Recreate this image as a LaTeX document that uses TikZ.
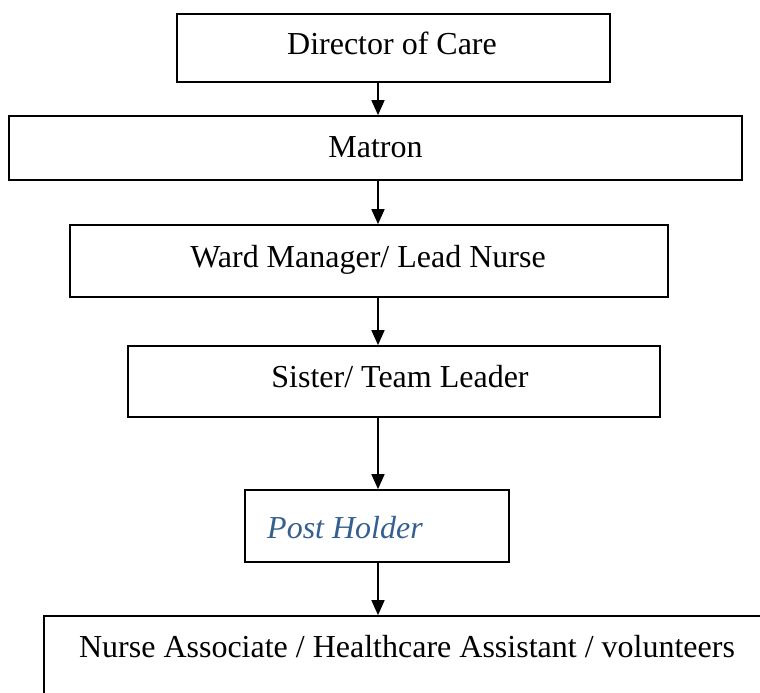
\documentclass[tikz,border=0pt]{standalone}
\usepackage{fontspec}
\setmainfont{Liberation Serif}
\usetikzlibrary{arrows.meta}
\definecolor{postblue}{HTML}{365F91}
\tikzset{
  box/.style={draw, line width=1.7pt, rectangle, inner sep=0pt},
  lbl/.style={inner sep=0pt, anchor=base, font=\fontsize{32}{38}\selectfont},
  arr/.style={line width=1.7pt, -{Triangle[length=15pt,width=13pt]}}
}
\begin{document}
\begin{tikzpicture}[x=1pt,y=-1pt]
\useasboundingbox (0,0) rectangle (760,693);
\clip (0,0) rectangle (760,693);
\coordinate (ax) at (378,0);
\node[box, minimum width=433pt, minimum height=68pt] (b1) at (393.5,48) {};
\node[box, minimum width=733pt, minimum height=64pt] (b2) at (375.5,148) {};
\node[box, minimum width=598pt, minimum height=72pt] (b3) at (369,261) {};
\node[box, minimum width=532pt, minimum height=71pt] (b4) at (394,381.5) {};
\node[box, minimum width=264pt, minimum height=72pt] (b5) at (377,526) {};
\node[box, minimum width=760pt, minimum height=200pt] (b6) at (424,716) {};
\node[lbl] (t1) at (392,55) {Director of Care};
\node[lbl] (t2) at (375.5,157) {Matron};
\node[lbl] (t3) at (368,267) {Ward Manager/ Lead Nurse};
\node[lbl] (t4) at (400,387) {Sister/ Team Leader};
\node[lbl, anchor=base west, text=postblue, font=\fontsize{32}{38}\selectfont\itshape] (t5) at (267,538) {Post Holder};
\node[lbl] (t6) at (407,657) {Nurse Associate / Healthcare Assistant / volunteers};
\draw[arr] (b1.south -| ax) -- (b2.north -| ax);
\draw[arr] (b2.south -| ax) -- (b3.north -| ax);
\draw[arr] (b3.south -| ax) -- (b4.north -| ax);
\draw[arr] (b4.south -| ax) -- (b5.north -| ax);
\draw[arr] (b5.south -| ax) -- (b6.north -| ax);
\end{tikzpicture}
\end{document}
